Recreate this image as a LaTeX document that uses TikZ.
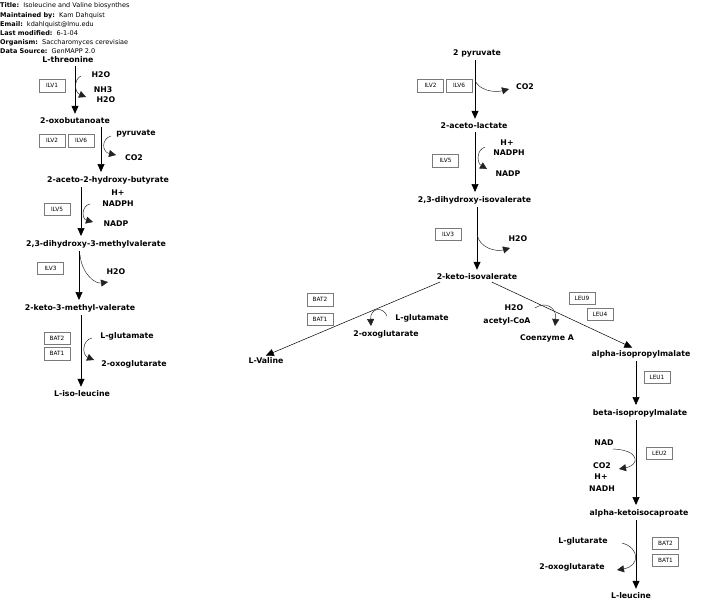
\documentclass[tikz,border=0pt]{standalone}
\usepackage{fontspec}
\setmainfont{DejaVu Sans}
\usepackage{tikz}
\usetikzlibrary{arrows.meta}
\definecolor{boxgray}{HTML}{7A7A7A}
\definecolor{curvegray}{HTML}{222222}
\tikzset{
  met/.style={font=\fontsize{7.8}{9}\selectfont\bfseries, inner sep=1pt},
  gene/.style={draw=boxgray, line width=0.5pt, font=\fontsize{5.8}{6}\selectfont, minimum width=26pt, minimum height=12.5pt, inner sep=0pt},
  hd/.style={anchor=west, font=\fontsize{6.5}{7}\selectfont, inner sep=0pt},
  rxn/.style={-{Triangle[length=8pt,width=7pt]}, line width=0.7pt, shorten <=2pt, shorten >=3pt},
  side/.style={-{Triangle[length=7pt,width=7pt]}, line width=0.45pt, color=curvegray}
}
\begin{document}
\begin{tikzpicture}[x=1pt,y=-1pt]
    \useasboundingbox (0,0) rectangle (706,611);
    % header
    \node[hd] (hdtitle) at (0,6)  {\textbf{Title:}\ \ Isoleucine and Valine biosynthes};
    \node[hd] (hdmaint) at (0,16) {\textbf{Maintained by:}\ \ Kam Dahquist};
    \node[hd] (hdmail)  at (0,25) {\textbf{Email:}\ \ kdahlquist@lmu.edu};
    \node[hd] (hdmod)   at (0,33) {\textbf{Last modified:}\ \ 6-1-04};
    \node[hd] (hdorg)   at (0,43) {\textbf{Organism:}\ \ Saccharomyces cerevisiae};
    \node[hd] (hdsrc)   at (0,51) {\textbf{Data Source:}\ \ GenMAPP 2.0};

    % isoleucine branch
    \node[met] (thr)  at (68,60)  {L-threonine};
    \node[met] (oxb)  at (75,121) {2-oxobutanoate};
    \node[met] (ahb)  at (108,180) {2-aceto-2-hydroxy-butyrate};
    \node[met] (dhmv) at (96,244) {2,3-dihydroxy-3-methylvalerate};
    \node[met] (kmv)  at (80,308) {2-keto-3-methyl-valerate};
    \node[met] (ile)  at (82,394) {L-iso-leucine};

    \draw[rxn] (thr.south -| 75,0) -- (oxb.north -| 75,0);
    \draw[rxn] (oxb.south -| 101,0) -- (ahb.north -| 101,0);
    \draw[rxn] (ahb.south -| 81,0) -- (dhmv.north -| 81,0);
    \draw[rxn] (dhmv.south -| 79,0) -- (kmv.north -| 79,0);
    \draw[rxn] (kmv.south -| 81,0) -- (ile.north -| 81,0);

    \node[gene] (ilv1)  at (52,85.5) {ILV1};
    \node[gene] (ilv2a) at (52,140.5) {ILV2};
    \node[gene] (ilv6a) at (81,140.5) {ILV6};
    \node[gene] (ilv5a) at (57,209) {ILV5};
    \node[gene] (ilv3a) at (50.5,268) {ILV3};
    \node[gene] (bat2a) at (57,338) {BAT2};
    \node[gene] (bat1a) at (57,353.5) {BAT1};

    \node[met] (h2oa)  at (101,75)  {H2O};
    \node[met] (nh3)   at (103,90)  {NH3};
    \node[met] (h2ob)  at (106,100) {H2O};
    \node[met] (pyra)  at (136,134) {pyruvate};
    \node[met] (co2a)  at (134,158) {CO2};
    \node[met] (hpa)   at (118,193) {H+};
    \node[met] (nadpha) at (118,204) {NADPH};
    \node[met] (nadpa) at (116,224) {NADP};
    \node[met] (h2oc)  at (116,272) {H2O};
    \node[met] (glua)  at (127,336) {L-glutamate};
    \node[met] (oga)   at (134,364) {2-oxoglutarate};

    \draw[side] (81,76) .. controls (74,79) and (74,92) .. (86,97);
    \draw[side] (111,136) .. controls (101,139) and (102,152) .. (116,155);
    \draw[side] (90,204) .. controls (81,206) and (82,219) .. (93,222);
    \draw[side] (80,255) .. controls (82,274) and (95,284) .. (108,282);
    \draw[side] (92,338) .. controls (82,340) and (82,355) .. (94,360);

    % valine / leucine branch
    \node[met] (pyr)  at (477,53)  {2 pyruvate};
    \node[met] (acl)  at (474,126) {2-aceto-lactate};
    \node[met] (dhiv) at (474.5,200) {2,3-dihydroxy-isovalerate};
    \node[met] (kiv)  at (477,277) {2-keto-isovalerate};
    \node[met] (val)  at (266,361) {L-Valine};
    \node[met] (aipm) at (641,354) {alpha-isopropylmalate};
    \node[met] (bipm) at (640,413) {beta-isopropylmalate};
    \node[met] (kic)  at (639,513) {alpha-ketoisocaproate};
    \node[met] (leu)  at (631,596) {L-leucine};

    \draw[rxn] (pyr.south -| 475,0) -- (acl.north -| 475,0);
    \draw[rxn] (acl.south -| 475,0) -- (dhiv.north -| 475,0);
    \draw[rxn] (dhiv.south -| 477,0) -- (kiv.north -| 477,0);
    \draw[rxn, line width=0.5pt] (kiv.south -| 442,0) -- (val.north -| 263,0);
    \draw[rxn, line width=0.5pt] (kiv.south -| 490,0) -- (aipm.north -| 635,0);
    \draw[rxn] (aipm.south -| 636,0) -- (bipm.north -| 636,0);
    \draw[rxn] (bipm.south -| 636,0) -- (kic.north -| 636,0);
    \draw[rxn] (kic.south -| 636,0) -- (leu.north -| 636,0);

    \node[gene] (ilv2b) at (430.5,85.5) {ILV2};
    \node[gene] (ilv6b) at (459,85.5) {ILV6};
    \node[gene] (ilv5b) at (445.5,160.5) {ILV5};
    \node[gene] (ilv3b) at (448,234) {ILV3};
    \node[gene] (bat2b) at (320,299.5) {BAT2};
    \node[gene] (bat1b) at (320,319) {BAT1};
    \node[gene] (leu9)  at (582,298) {LEU9};
    \node[gene] (leu4)  at (600,314) {LEU4};
    \node[gene] (leu1)  at (657,377) {LEU1};
    \node[gene] (leu2)  at (659.5,453) {LEU2};
    \node[gene] (bat2c) at (665.5,543) {BAT2};
    \node[gene] (bat1c) at (665.5,560) {BAT1};

    \node[met] (co2b)  at (525,87)  {CO2};
    \node[met] (hpb)   at (507,143) {H+};
    \node[met] (nadphb) at (509,153) {NADPH};
    \node[met] (nadpb) at (508,174) {NADP};
    \node[met] (h2od)  at (518,239) {H2O};
    \node[met] (glub)  at (422,318) {L-glutamate};
    \node[met] (ogb)   at (386,334) {2-oxoglutarate};
    \node[met] (h2oe)  at (514,308) {H2O};
    \node[met] (accoa) at (507,321) {acetyl-CoA};
    \node[met] (coa)   at (547,338) {Coenzyme A};
    \node[met] (nad)   at (604,443) {NAD};
    \node[met] (co2c)  at (602,466) {CO2};
    \node[met] (hpc)   at (601,477) {H+};
    \node[met] (nadh)  at (602,489) {NADH};
    \node[met] (glut)  at (583,541) {L-glutarate};
    \node[met] (ogc)   at (572,567) {2-oxoglutarate};

    \draw[side] (475,80) .. controls (478,90) and (494,93) .. (509,89);
    \draw[side] (485,147) .. controls (476,150) and (477,163) .. (487,169);
    \draw[side] (477,234) .. controls (479,248) and (496,252) .. (510,248);
    \draw[side] (387,316) .. controls (383,306) and (370,308) .. (371,326);
    \draw[side] (535,308) .. controls (545,301) and (557,307) .. (555,326);
    \draw[side] (613,449) .. controls (640,450) and (640,465) .. (619,469);
    \draw[side] (622,543) .. controls (640,548) and (640,566) .. (617,570);
\end{tikzpicture}
\end{document}
